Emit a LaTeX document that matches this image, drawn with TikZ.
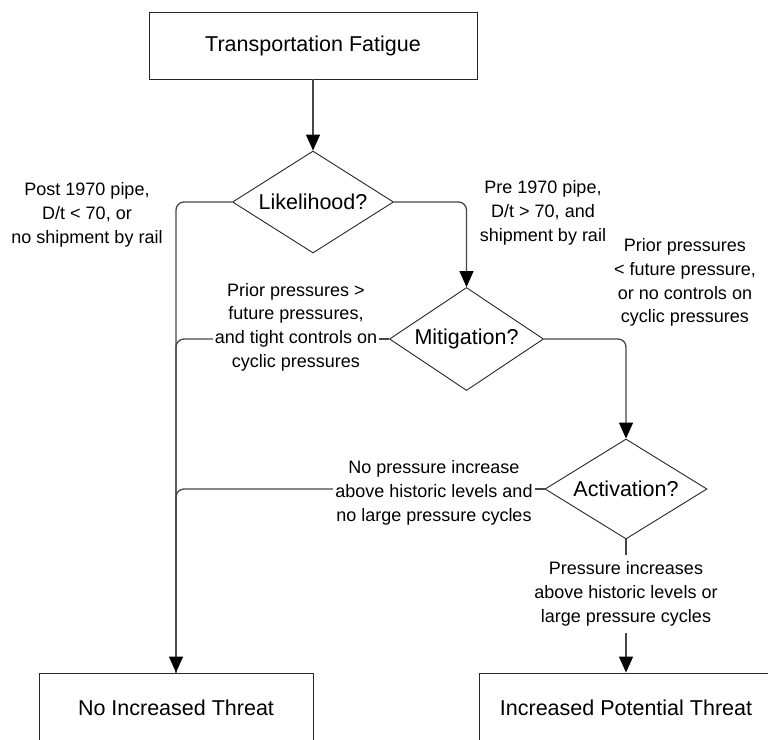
\documentclass[tikz,border=0pt]{standalone}
\usepackage{fontspec}
\setmainfont{Liberation Sans}
\usetikzlibrary{shapes.geometric,arrows.meta}
\begin{document}
\begin{tikzpicture}[x=1pt,y=-1pt,
  box/.style={draw=black!85,line width=0.9pt,rectangle,inner sep=0pt,font=\fontsize{21.5}{26}\selectfont},
  dia/.style={draw=black!85,line width=0.9pt,diamond,inner sep=0pt,aspect=1.6,font=\fontsize{21.5}{26}\selectfont},
  lab/.style={align=center,inner xsep=2pt,inner ysep=3pt,font=\fontsize{18}{23.7}\selectfont},
  conn/.style={draw=black!72,line width=1.3pt,rounded corners=8pt},
  arr/.style={conn,-{Triangle[length=16pt,width=14pt,color=black]}}]
\path[use as bounding box] (0,0) rectangle (768,739);
\clip (0,0) rectangle (768,739);

\node[box,minimum width=328,minimum height=67] (top) at (313,45.5) {Transportation Fatigue};
\node[dia,minimum width=161,minimum height=102] (lik) at (313,202) {Likelihood?};
\node[dia,minimum width=154,minimum height=103] (mit) at (466.5,339) {Mitigation?};
\node[dia,minimum width=162,minimum height=100] (act) at (626,489) {Activation?};
\node[box,minimum width=274,minimum height=70] (noinc) at (176,708) {No Increased Threat};
\node[box,minimum width=294,minimum height=70] (ipt) at (626,708) {Increased Potential Threat};

\node[lab] (l1) at (87,215) {Post 1970 pipe,\\D/t < 70, or\\no shipment by rail};
\node[lab] (l2) at (543,213) {Pre 1970 pipe,\\D/t > 70, and\\shipment by rail};
\node[lab] (l3) at (685,282.5) {Prior pressures\\< future pressure,\\or no controls on\\cyclic pressures};
\node[lab] (l4) at (296,327) {Prior pressures >\\future pressures,\\and tight controls on\\cyclic pressures};
\node[lab] (l5) at (434,493) {No pressure increase\\above historic levels and\\no large pressure cycles};
\node[lab,minimum height=78] (l6) at (626,594) {Pressure increases\\above historic levels or\\large pressure cycles};

\draw[arr] (top.south) -- (lik.north);
\draw[arr] (lik.east) -| (mit.north);
\draw[arr] (mit.east) -| (act.north);
\draw[conn] (mit.west) -- (mit.west -| l4.east);
\draw[conn] (l4.west |- mit.west) -| (noinc.north);
\draw[conn] (act.west) -- (act.west -| l5.east);
\draw[conn] (l5.west |- act.west) -| (noinc.north);
\draw[arr] (lik.west) -| (noinc.north);
\draw[conn] (act.south) -- (l6.north);
\draw[arr] (l6.south) -- (ipt.north);
\end{tikzpicture}
\end{document}
